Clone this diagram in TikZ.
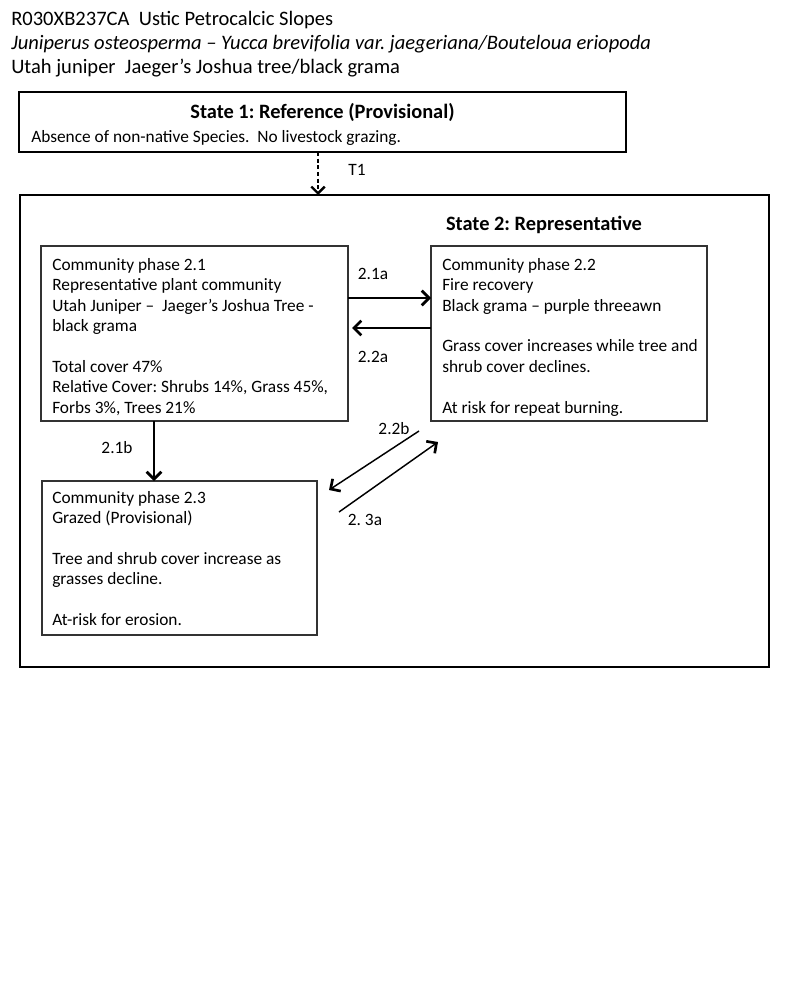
\documentclass[tikz,border=0pt]{standalone}
\usepackage{fontspec}
\setmainfont{Carlito}
\usetikzlibrary{arrows.meta,calc}
\frenchspacing
\begin{document}
\begin{tikzpicture}[x=0.75pt,y=-0.75pt,
  statebox/.style={draw=black,line width=2.2pt,inner sep=0pt,outer sep=0pt,anchor=north west},
  phasebox/.style={draw=black!80,line width=0.9pt,inner sep=0pt,outer sep=0pt,anchor=north west},
  bodytext/.style={align=left,inner sep=0pt,anchor=north west,font=\fontsize{13}{15.3}\selectfont},
  titletext/.style={inner sep=0pt,anchor=base west,font=\fontsize{15.4}{18}\selectfont},
  lbl/.style={inner sep=0pt,font=\fontsize{13}{15}\selectfont},
  arr/.style={line width=1.1pt,-{Straight Barb[length=5.5pt,width=11pt,line width=2pt]}},
  dasharr/.style={line width=0.9pt,dash pattern=on 3pt off 2pt,-{Straight Barb[length=5pt,width=10pt,line width=1.8pt]}}]
\useasboundingbox (0,0) rectangle (800,984);
% header
\node[titletext] (h1) at (11,26) {R030XB237CA\ \ Ustic Petrocalcic Slopes};
\node[titletext] (h2) at (11,49.5) {\itshape Juniperus osteosperma – Yucca brevifolia var. jaegeriana/Bouteloua eriopoda};
\node[titletext] (h3) at (11,74) {Utah juniper\ \ Jaeger’s Joshua tree/black grama};
% state 1
\node[statebox,minimum width=455.25pt,minimum height=45pt] (s1) at (19,92) {};
\node[inner sep=0pt,anchor=base,font=\fontsize{15.3}{18}\selectfont\bfseries] (s1t) at (322.5,119) {State 1: Reference (Provisional)};
\node[inner sep=0pt,anchor=base west,font=\fontsize{13}{15}\selectfont] (s1d) at (31,143) {Absence of non-native Species.\ \ No livestock grazing.};
% state 2
\node[statebox,minimum width=561.75pt,minimum height=354pt] (s2) at (20,195) {};
\node[inner sep=0pt,anchor=base,font=\fontsize{15.3}{18}\selectfont\bfseries] (s2t) at (544,231) {State 2: Representative};
% T1
\draw[dasharr] (s1.south -| 318,0) -- (s2.north -| 318,0);
\node[lbl] (t1) at (357,170) {T1};
% phase boxes
\node[phasebox,minimum width=230.25pt,minimum height=131.25pt] (p21) at (41,246) {};
\node[bodytext] (p21t) at (52,258) {Community phase 2.1\\Representative plant community\\Utah Juniper –\ \ Jaeger’s Joshua Tree -\\black grama\\\mbox{}\\Total cover 47\%\\Relative Cover: Shrubs 14\%, Grass 45\%,\\Forbs 3\%, Trees 21\%};
\node[phasebox,minimum width=207pt,minimum height=131.25pt] (p22) at (431,246) {};
\node[bodytext] (p22t) at (442,258) {Community phase 2.2\\Fire recovery\\Black grama – purple threeawn\\\mbox{}\\Grass cover increases while tree and\\shrub cover declines.\\\mbox{}\\At risk for repeat burning.};
\node[phasebox,minimum width=206.25pt,minimum height=115.5pt] (p23) at (42,481) {};
\node[bodytext] (p23t) at (52,491) {Community phase 2.3\\Grazed (Provisional)\\\mbox{}\\Tree and shrub cover increase as\\grasses decline.\\\mbox{}\\At-risk for erosion.};
% transitions
\draw[arr] (p21.east |- 0,298) -- (p22.west |- 0,298);
\node[lbl] (l21a) at (373,274) {2.1a};
\draw[arr,shorten >=3pt] (p22.west |- 0,328) -- (p21.east |- 0,328);
\node[lbl] (l22a) at (373,357) {2.2a};
\draw[arr] (p21.south -| 154,0) -- (p23.north -| 154,0);
\node[lbl] (l21b) at (117,448) {2.1b};
\draw[arr] ($(p22.south west)+(-12,10)$) -- ($(p23.north east)+(12,9)$);
\node[lbl] (l22b) at (394,429) {2.2b};
\draw[arr] ($(p23.north east)+(22,31)$) -- ($(p22.south west)+(7,21)$);
\node[lbl] (l23a) at (365,520) {2. 3a};
\end{tikzpicture}
\end{document}
